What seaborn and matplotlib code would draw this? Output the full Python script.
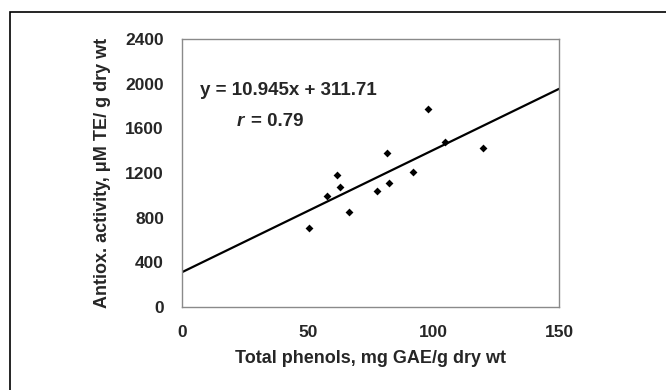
import matplotlib
matplotlib.use("Agg")
import matplotlib.pyplot as plt
import seaborn as sns
import numpy as np
import pandas as pd
from matplotlib.patches import Rectangle

phenols = [50.4, 57.8, 61.5, 62.7, 66.3, 77.7, 81.6, 82.4, 92.0, 97.9, 104.8, 119.6]
antiox = [711, 996, 1180, 1073, 848, 1037, 1381, 1108, 1206, 1769, 1482, 1426]
slope = 10.945
intercept = 311.71
fit_x = [0, 150]
x_ticks = [0, 50, 100, 150]
y_ticks = [0, 400, 800, 1200, 1600, 2000, 2400]
eq_text = "y = 10.945x + 311.71"
r_text = "= 0.79"

sns.set_style("white")
plt.rcParams['font.family'] = ['Liberation Sans', 'DejaVu Sans']

fig = plt.figure(figsize=(6.66, 3.9), dpi=100)
ax = fig.add_axes([182/666, 1-307/390, (559-182)/666, (307-39)/390])

df = pd.DataFrame({"x": phenols, "y": antiox})
fit = pd.DataFrame({"x": fit_x, "y": [slope*v + intercept for v in fit_x]})
sns.lineplot(data=fit, x="x", y="y", ax=ax, color="black", lw=1.6)
sns.scatterplot(data=df, x="x", y="y", ax=ax, marker="D", s=16, color="black",
                edgecolor="black", linewidth=0)

ax.set_xlim(0, 150)
ax.set_ylim(0, 2400)
ax.set_xticks(x_ticks)
ax.set_yticks(y_ticks)
ax.set_xticklabels([str(t) for t in x_ticks], fontsize=12.5, fontweight="bold")
ax.set_yticklabels([str(t) for t in y_ticks], fontsize=12.5, fontweight="bold")
for s in ax.spines.values():
    s.set_color("#8a8a8a")
    s.set_linewidth(1.0)
ax.tick_params(axis="x", direction="out", length=4, width=1, color="#8a8a8a", pad=9)
ax.tick_params(axis="y", direction="out", length=4, width=1, color="#8a8a8a", pad=9)
ax.set_xlabel("Total phenols, mg GAE/g dry wt", fontsize=13, fontweight="bold", labelpad=7)
ax.set_ylabel("Antiox. activity, μM TE/ g dry wt", fontsize=13, fontweight="bold", labelpad=10)

ax.text(0.048, 0.806, eq_text, transform=ax.transAxes, fontsize=13.5, fontweight="bold",
        va="center", ha="left")
ax.text(0.146, 0.694, "r", transform=ax.transAxes, fontsize=13.5, fontweight="bold",
        style="italic", va="center", ha="left")
ax.text(0.182, 0.694, r_text, transform=ax.transAxes, fontsize=13.5, fontweight="bold",
        va="center", ha="left")

fig.patches.append(Rectangle((10/666, -0.1), 1.0, 1 - 12/390 + 0.1, transform=fig.transFigure,
                             fill=False, edgecolor="black", linewidth=1.2))

fig.savefig("out.png", dpi=100)
